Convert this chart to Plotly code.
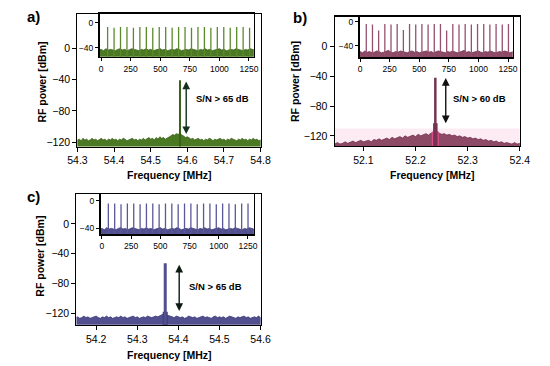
import numpy as np
import plotly.graph_objects as go

W, H = 550, 366
FONT = "Liberation Sans, Arial, Helvetica, sans-serif"

# ------------------------------------------------------------------ data
# Panel a (main: RF spectrum around the repetition rate)
a_freq_range = [54.30, 54.80]
a_floor_dbm = [-117, -116, -118, -115, -117, -116, -118, -117, -115, -117,
               -116, -118, -116, -115, -117, -116, -118, -116, -117, -115,
               -117, -116, -118, -116, -117, -115, -116, -118, -117, -116,
               -115, -117, -116, -118, -116, -117, -115, -117, -116, -114,
               -116, -115, -117, -114, -116, -113, -115, -114, -116, -115,
               -113, -112, -110, -111, -109, -110, -108, -111, -112, -114,
               -113, -115, -116, -115, -117, -116, -115, -117, -116, -118,
               -116, -117, -115, -116, -118, -116, -117, -116, -115, -117,
               -116, -118, -116, -117, -115, -116, -117, -118, -116, -117,
               -115, -117, -116, -118, -116, -117, -115, -117, -116, -118, -117]
a_carrier_mhz = 54.58
a_carrier_dbm = -41
a_arrow_mhz = 54.597
a_arrow_dbm = [-42.5, -111.5]
a_label = "S/N > 65 dB"
a_label_pos = [54.697, -64]
# inset a (comb over 0-1300 MHz)
a_comb_mhz = [54.6, 109.2, 163.7, 218.3, 272.9, 327.5, 382.1, 436.6, 491.2, 545.8,
              600.4, 655.0, 709.5, 764.1, 818.7, 873.3, 927.9, 982.4, 1037.0, 1091.6,
              1146.2, 1200.8, 1255.3]
a_comb_dbm = [-7, -8, -7, -7, -8, -7, -7, -8, -7, -7, -8, -7, -7, -8, -7, -7, -8, -7,
              -7, -8, -7, -7, -8]
a_inset_floor_dbm = [-44, -43, -45, -42, -44, -43, -44, -45, -43, -42,
                     -44, -43, -45, -44, -42, -43, -44, -45, -43, -44,
                     -42, -44, -43, -45, -44, -43, -42, -44, -43, -45,
                     -44, -43, -44, -42, -43, -45, -44, -43, -44, -42,
                     -43, -44, -45, -43, -44, -42, -44, -43, -45, -44,
                     -43, -42, -44, -43, -45, -44, -43, -44, -42, -43,
                     -44, -45, -43, -44, -42, -43, -44]

# Panel b
b_freq_range = [52.045, 52.40]
b_floor_dbm = [-131, -129, -131, -130, -128, -130, -129, -127, -129, -128,
               -126, -128, -127, -126, -128, -125, -126, -124, -126, -125,
               -123, -125, -122, -124, -123, -121, -123, -120, -122, -121,
               -119, -121, -118, -120, -118, -117, -119, -116, -117, -114,
               -116, -118, -117, -119, -118, -120, -119, -121, -120, -122,
               -121, -123, -122, -124, -123, -125, -124, -126, -125, -127,
               -126, -128, -127, -129, -128, -130, -129, -130, -131, -129,
               -131, -130]
b_maxhold_dbm = -110
b_carrier_mhz = 52.238
b_carrier_dbm = -42
b_pedestal_dbm = -103
b_core_dbm = -114
b_arrow_mhz = 52.258
b_arrow_dbm = [-42.5, -105]
b_label = "S/N > 60 dB"
b_label_pos = [52.322, -70]
b_comb_mhz = [52.2, 104.5, 156.7, 209.0, 261.2, 313.4, 365.7, 417.9, 470.2, 522.4,
              574.6, 626.9, 679.1, 731.4, 783.6, 835.8, 888.1, 940.3, 992.6, 1044.8,
              1097.0, 1149.3, 1201.5, 1253.8]
b_comb_dbm = [-4, -5, -15, -4, -5, -4, -14, -4, -5, -4, -5, -4, -4, -15, -4, -5, -4,
              -5, -4, -4, -5, -4, -5, -4]
b_inset_floor_dbm = [-51, -50, -52, -49, -51, -50, -52, -51, -49, -50,
                     -52, -51, -50, -48, -51, -52, -50, -51, -49, -50,
                     -51, -52, -50, -49, -51, -50, -52, -51, -50, -49,
                     -51, -50, -52, -51, -49, -50, -51, -52, -50, -51,
                     -49, -50, -52, -51, -50, -48, -51, -50, -52, -51,
                     -50, -49, -51, -52, -50, -51, -49, -50, -52, -51,
                     -50, -51, -49, -50, -52, -51, -50]

# Panel c
c_freq_range = [54.15, 54.60]
c_floor_dbm = [-126, -125, -127, -126, -124, -126, -125, -127, -126, -125,
               -124, -126, -127, -125, -126, -124, -126, -125, -127, -126,
               -125, -126, -124, -126, -125, -127, -126, -125, -124, -126,
               -125, -127, -126, -125, -126, -124, -125, -126, -125, -124,
               -125, -123, -122, -121, -122, -123, -124, -125, -126, -124,
               -125, -126, -125, -127, -126, -124, -125, -126, -125, -127,
               -126, -125, -124, -126, -125, -126, -127, -125, -124, -126,
               -125, -126, -125, -127, -126, -124, -125, -126, -127, -125,
               -126, -125, -124, -126, -125, -127, -126, -125, -126, -124,
               -126]
c_carrier_mhz = 54.368
c_carrier_dbm = -53
c_pedestal_dbm = -118
c_arrow_mhz = 54.402
c_arrow_dbm = [-55, -119]
c_label = "S/N > 65 dB"
c_label_pos = [54.491, -84]
c_comb_mhz = [54.4, 108.7, 163.1, 217.5, 271.9, 326.2, 380.6, 435.0, 489.3, 543.7,
              598.1, 652.4, 706.8, 761.2, 815.6, 869.9, 924.3, 978.7, 1033.0, 1087.4,
              1141.8, 1196.1, 1250.5]
c_comb_dbm = [-4, -4, -5, -4, -4, -5, -4, -4, -5, -4, -4, -5, -4, -4, -5, -4, -4, -5,
              -4, -4, -5, -4, -4]
c_inset_floor_dbm = [-41, -40, -42, -39, -41, -40, -41, -42, -40, -39,
                     -41, -40, -42, -41, -39, -40, -41, -42, -40, -41,
                     -39, -41, -40, -42, -41, -40, -39, -41, -40, -42,
                     -41, -40, -41, -39, -40, -42, -41, -40, -41, -39,
                     -40, -41, -42, -40, -41, -39, -41, -40, -42, -41,
                     -40, -39, -41, -40, -42, -41, -40, -41, -39, -40,
                     -41, -42, -40, -41, -39, -40, -41]

inset_span_mhz = [-20, 1300]
main_yticks = [0, -40, -80, -120]
inset_yticks = [0, -40]
inset_xticks = [0, 250, 500, 750, 1000, 1250]

# ------------------------------------------------------------------ styles
GREEN_FILL, GREEN_LINE, GREEN_TOOTH = "#4b7823", "#3a6118", "#5b8a2c"
ROSE_FILL, ROSE_LINE, ROSE_TOOTH = "#8d4a66", "#763352", "#94506e"
BLUE_FILL, BLUE_LINE, BLUE_TOOTH = "#524f8f", "#3f3c7a", "#5a579a"
BOTTOM = -300


def dom_x(p0, p1):
    return [p0 / W, p1 / W]


def dom_y(top, bottom):
    return [1 - bottom / H, 1 - top / H]


fig = go.Figure()


def add_floor(xs, ys, xa, ya, fill, line):
    x = [xs[0]] + list(xs) + [xs[-1]]
    y = [BOTTOM] + list(ys) + [BOTTOM]
    fig.add_trace(go.Scatter(x=x, y=y, mode="lines", fill="toself", fillcolor=fill,
                             line=dict(color=line, width=0.8), xaxis=xa, yaxis=ya,
                             hoverinfo="skip", showlegend=False))


def add_vline(f, top, xa, ya, color, width):
    fig.add_trace(go.Scatter(x=[f, f], y=[BOTTOM, top], mode="lines",
                             line=dict(color=color, width=width), xaxis=xa, yaxis=ya,
                             hoverinfo="skip", showlegend=False))


def add_comb(freqs, levels, xa, ya, color):
    xs, ys = [], []
    for f, l in zip(freqs, levels):
        xs += [f, f, None]
        ys += [BOTTOM, l, None]
    fig.add_trace(go.Scatter(x=xs, y=ys, mode="lines", line=dict(color=color, width=1.3),
                             xaxis=xa, yaxis=ya, hoverinfo="skip", showlegend=False))


inset_x = np.linspace(inset_span_mhz[0], inset_span_mhz[1], len(a_inset_floor_dbm))

# panel a
ax_a = np.linspace(a_freq_range[0], a_freq_range[1], len(a_floor_dbm))
add_floor(ax_a, a_floor_dbm, "x", "y", GREEN_FILL, GREEN_LINE)
add_vline(a_carrier_mhz, a_carrier_dbm, "x", "y", GREEN_LINE, 2)
add_floor(inset_x, a_inset_floor_dbm, "x2", "y2", GREEN_FILL, GREEN_LINE)
add_comb(a_comb_mhz, a_comb_dbm, "x2", "y2", GREEN_TOOTH)

# panel b
bx = np.linspace(b_freq_range[0], b_freq_range[1], len(b_floor_dbm))
add_floor(bx, b_floor_dbm, "x3", "y3", ROSE_FILL, ROSE_LINE)
add_vline(b_carrier_mhz, b_core_dbm, "x3", "y3", "#d9508a", 7)
add_vline(b_carrier_mhz, b_pedestal_dbm, "x3", "y3", ROSE_LINE, 4.5)
add_vline(b_carrier_mhz, b_carrier_dbm, "x3", "y3", ROSE_LINE, 2.5)
add_floor(inset_x, b_inset_floor_dbm, "x4", "y4", ROSE_FILL, ROSE_LINE)
add_comb(b_comb_mhz, b_comb_dbm, "x4", "y4", ROSE_TOOTH)

# panel c
cx = np.linspace(c_freq_range[0], c_freq_range[1], len(c_floor_dbm))
add_floor(cx, c_floor_dbm, "x5", "y5", BLUE_FILL, BLUE_LINE)
add_vline(c_carrier_mhz, c_pedestal_dbm, "x5", "y5", BLUE_LINE, 5)
add_vline(c_carrier_mhz, c_carrier_dbm, "x5", "y5", BLUE_FILL, 3)
add_floor(inset_x, c_inset_floor_dbm, "x6", "y6", BLUE_FILL, BLUE_LINE)
add_comb(c_comb_mhz, c_comb_dbm, "x6", "y6", BLUE_TOOTH)

# ------------------------------------------------------------------ axes
def main_axis(**kw):
    d = dict(showline=True, linecolor="black", linewidth=1.2, mirror=True,
             ticks="outside", ticklen=4, tickwidth=1, tickcolor="black",
             showgrid=False, zeroline=False,
             tickfont=dict(family=FONT, size=10.5, color="black"))
    d.update(kw)
    return d


def inset_axis(**kw):
    d = dict(showline=True, linecolor="black", linewidth=1.6, mirror=True,
             ticks="outside", ticklen=3, tickwidth=1, tickcolor="black",
             showgrid=False, zeroline=False,
             tickfont=dict(family=FONT, size=8.5, color="black"))
    d.update(kw)
    return d


layout = dict(
    width=W, height=H, margin=dict(l=0, r=0, t=0, b=0),
    paper_bgcolor="white", plot_bgcolor="white", showlegend=False,
    font=dict(family=FONT, color="black"),
    # a
    xaxis=main_axis(domain=dom_x(70, 260), range=a_freq_range, anchor="y",
                    tickvals=[54.3, 54.4, 54.5, 54.6, 54.7, 54.8], tickformat=".1f"),
    yaxis=main_axis(domain=dom_y(14, 147), range=[-125.5, 43.6], anchor="x",
                    tickvals=main_yticks),
    xaxis2=inset_axis(domain=dom_x(93, 253), range=[-13, 1291], anchor="y2",
                      tickvals=inset_xticks),
    yaxis2=inset_axis(domain=dom_y(14, 57), range=[-55, 14], anchor="x2",
                      tickvals=inset_yticks),
    # b
    xaxis3=main_axis(domain=dom_x(337, 529), range=b_freq_range, anchor="y3",
                     tickvals=[52.1, 52.2, 52.3, 52.4], tickformat=".1f"),
    yaxis3=main_axis(domain=dom_y(16.7, 146.7), range=[-134, 40], anchor="x3",
                     tickvals=main_yticks),
    xaxis4=inset_axis(domain=dom_x(362.7, 521.7), range=[-5, 1290], anchor="y4",
                      tickvals=inset_xticks),
    yaxis4=inset_axis(domain=dom_y(16.7, 57.3), range=[-59.3, 8.3], anchor="x4",
                      tickvals=inset_yticks),
    # c
    xaxis5=main_axis(domain=dom_x(69, 260), range=[54.152, 54.6], anchor="y5",
                     tickvals=[54.2, 54.3, 54.4, 54.5, 54.6], tickformat=".1f"),
    yaxis5=main_axis(domain=dom_y(194.7, 325.7), range=[-135.7, 40], anchor="x5",
                     tickvals=main_yticks),
    xaxis6=inset_axis(domain=dom_x(94, 253), range=[-12, 1300], anchor="y6",
                      tickvals=inset_xticks),
    yaxis6=inset_axis(domain=dom_y(194.7, 234.7), range=[-48.2, 9.5], anchor="x6",
                      tickvals=inset_yticks),
)
fig.update_layout(**layout)

# faint max-hold band & pink inset background in panel b
fig.add_shape(type="rect", xref="x3", yref="y3", x0=b_freq_range[0], x1=b_freq_range[1],
              y0=BOTTOM, y1=b_maxhold_dbm, fillcolor="#fcebf2", line=dict(width=0),
              layer="below")
fig.add_shape(type="rect", xref="x4 domain", yref="y4 domain", x0=0, x1=1, y0=0, y1=1,
              fillcolor="#fdf2f7", line=dict(width=0), layer="below")

# ------------------------------------------------------------------ annotations
ann = []


def paper_text(text, px, py, size, angle=0):
    ann.append(dict(text=text, x=px / W, y=1 - py / H, xref="paper", yref="paper",
                    xanchor="center", yanchor="middle", showarrow=False, textangle=angle,
                    font=dict(family=FONT, size=size, color="black")))


paper_text("<b>a)</b>", 24, 17, 15)
paper_text("<b>b)</b>", 301, 17.5, 15)
paper_text("<b>c)</b>", 24, 197, 15)
for px_, py_ in [(33, 82), (296, 82), (31.5, 257)]:
    paper_text("<b>RF power [dBm]</b>", px_, py_, 10.5, angle=-90)
for px_, py_ in [(165, 175), (438, 175), (165, 355.5)]:
    paper_text("<b>Frequency [MHz]</b>", px_, py_, 10.5)


def arrow(xa, ya, f, ys, color):
    ann.append(dict(x=f, y=ys[0], ax=f, ay=ys[1], xref=xa, yref=ya, axref=xa, ayref=ya,
                    text="", showarrow=True, arrowhead=2, arrowside="end+start",
                    arrowsize=1.1, arrowwidth=1.4, arrowcolor=color, standoff=0,
                    startstandoff=0))


def label(xa, ya, pos, text):
    ann.append(dict(x=pos[0], y=pos[1], xref=xa, yref=ya, text="<b>" + text + "</b>",
                    showarrow=False, xanchor="center", yanchor="middle",
                    font=dict(family=FONT, size=9.5, color="black")))


arrow("x", "y", a_arrow_mhz, a_arrow_dbm, "#12301c")
label("x", "y", a_label_pos, a_label)
arrow("x3", "y3", b_arrow_mhz, b_arrow_dbm, "#111111")
label("x3", "y3", b_label_pos, b_label)
arrow("x5", "y5", c_arrow_mhz, c_arrow_dbm, "#0d1a12")
label("x5", "y5", c_label_pos, c_label)

fig.update_layout(annotations=ann)
fig.write_html("out.html",
               config={"displayModeBar": False, "staticPlot": True},
               post_script="document.body.style.margin='0';"
                           "document.body.style.overflow='hidden';")
